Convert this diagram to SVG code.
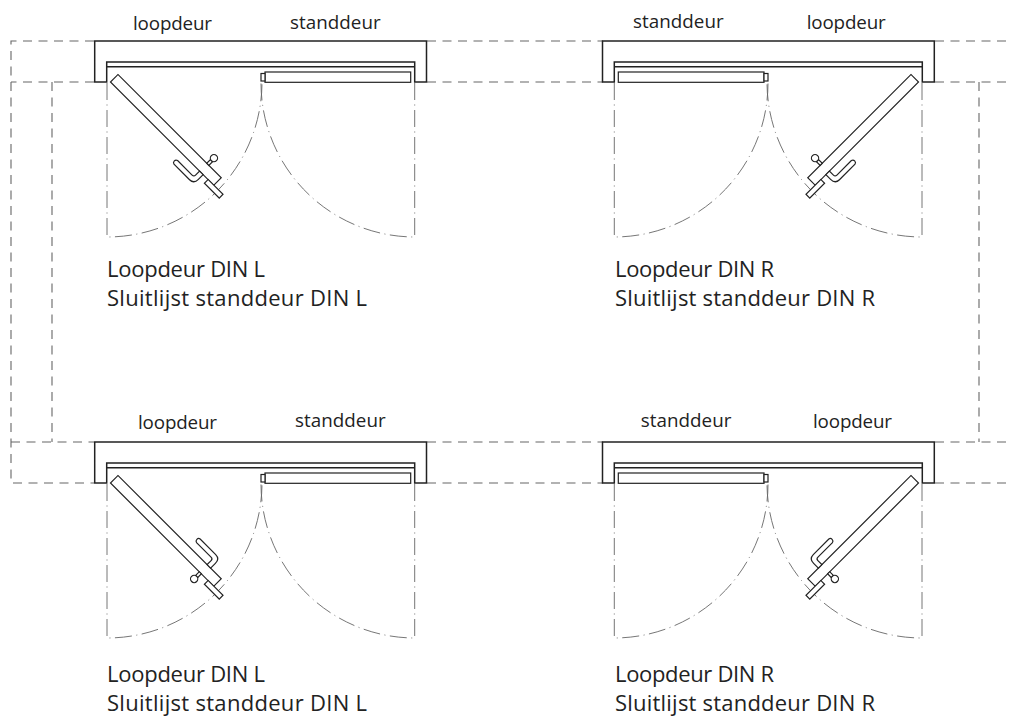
<svg xmlns="http://www.w3.org/2000/svg" xmlns:xlink="http://www.w3.org/1999/xlink" width="1009" height="719" viewBox="0 0 1009 719">
<style>
text{font-family:"Open Sans","Noto Sans","DejaVu Sans",sans-serif;fill:#222}
.s{font-size:18.8px}
.c{font-size:22px}
.o{fill:none;stroke:#222;stroke-width:1.5;stroke-linejoin:miter}
.t{fill:#fff;stroke:#222;stroke-width:1.2}
.d{fill:none;stroke:#666;stroke-width:1.1;stroke-dasharray:9 6.5}
.a{fill:none;stroke:#666;stroke-width:.9;stroke-dasharray:17 4.5 1 4.5}
</style>
<defs>
<g id="base">
<path class="a" d="M107 83V237A155 155 0 0 0 262 82"/>
<path class="a" d="M414.7 83V237A154 154 0 0 1 261 82"/>
<path class="o" d="M106.7 82H94.7V41H426.5V82H414.7V62H106.7ZM106.7 66.8H414.7"/>
<rect class="t" x="265" y="72" width="145.7" height="10.3"/>
<rect class="t" x="261" y="73.5" width="4" height="7.5"/>
<g transform="translate(114.25 78.25) rotate(45)">
<rect class="t" x="0" y="-5.3" width="146" height="10.6"/>
<rect class="t" x="138" y="5.2" width="21" height="5.3"/>
</g>
</g>
<g id="hw">
<path class="t" d="M125.5 -5.3V-10.5H128.5V-5.3Z"/>
<circle class="t" cx="127" cy="-14" r="3.6"/>
<path class="t" d="M131 5.3V12Q131 18.5 125 18.5H103A2.6 2.6 0 0 1 103 13.4H123.5Q126 13.4 126 11V5.3Z"/>
</g>
</defs>
<g id="connectors">
<path class="d" d="M94 41H11V483H94M94 82H11M52 82V442M11 442H94"/>
<path class="d" d="M427 41H603M427 82H603M427 442H603M427 483H603"/>
<path class="d" d="M935 41H1009M935 82H1009M979 82V442M935 442H1009M935 483H1009"/>
</g>
<g id="door-top-left">
<use xlink:href="#base" href="#base"/>
<use xlink:href="#hw" href="#hw" transform="translate(114.25 78.25) rotate(45)"/>
<text class="s" x="133" y="30" textLength="79">loopdeur</text>
<text class="s" x="290" y="29.3" textLength="90.7">standdeur</text>
<text class="c" x="107" y="276.7" textLength="158">Loopdeur DIN L</text>
<text class="c" x="107" y="306" textLength="260">Sluitlijst standdeur DIN L</text>
</g>
<g id="door-top-right">
<use xlink:href="#base" href="#base" transform="translate(1029 0) scale(-1 1)"/>
<use xlink:href="#hw" href="#hw" transform="translate(1029 0) scale(-1 1) translate(114.25 78.25) rotate(45)"/>
<text class="s" x="633" y="28" textLength="90.7">standdeur</text>
<text class="s" x="806.7" y="28.5" textLength="79">loopdeur</text>
<text class="c" x="615" y="276.7" textLength="159">Loopdeur DIN R</text>
<text class="c" x="615" y="306" textLength="260">Sluitlijst standdeur DIN R</text>
</g>
<g id="door-bottom-left">
<use xlink:href="#base" href="#base" transform="translate(0 401)"/>
<use xlink:href="#hw" href="#hw" transform="translate(0 401) translate(114.25 78.25) rotate(45) scale(1 -1)"/>
<text class="s" x="138" y="428.5" textLength="79">loopdeur</text>
<text class="s" x="295" y="427" textLength="90.7">standdeur</text>
<text class="c" x="107" y="681.5" textLength="158">Loopdeur DIN L</text>
<text class="c" x="107" y="711" textLength="260">Sluitlijst standdeur DIN L</text>
</g>
<g id="door-bottom-right">
<use xlink:href="#base" href="#base" transform="translate(1029 401) scale(-1 1)"/>
<use xlink:href="#hw" href="#hw" transform="translate(1029 401) scale(-1 1) translate(114.25 78.25) rotate(45) scale(1 -1)"/>
<text class="s" x="640.7" y="426.7" textLength="90.7">standdeur</text>
<text class="s" x="813" y="427.8" textLength="79">loopdeur</text>
<text class="c" x="615" y="681.5" textLength="159">Loopdeur DIN R</text>
<text class="c" x="615" y="711" textLength="260">Sluitlijst standdeur DIN R</text>
</g>
</svg>
